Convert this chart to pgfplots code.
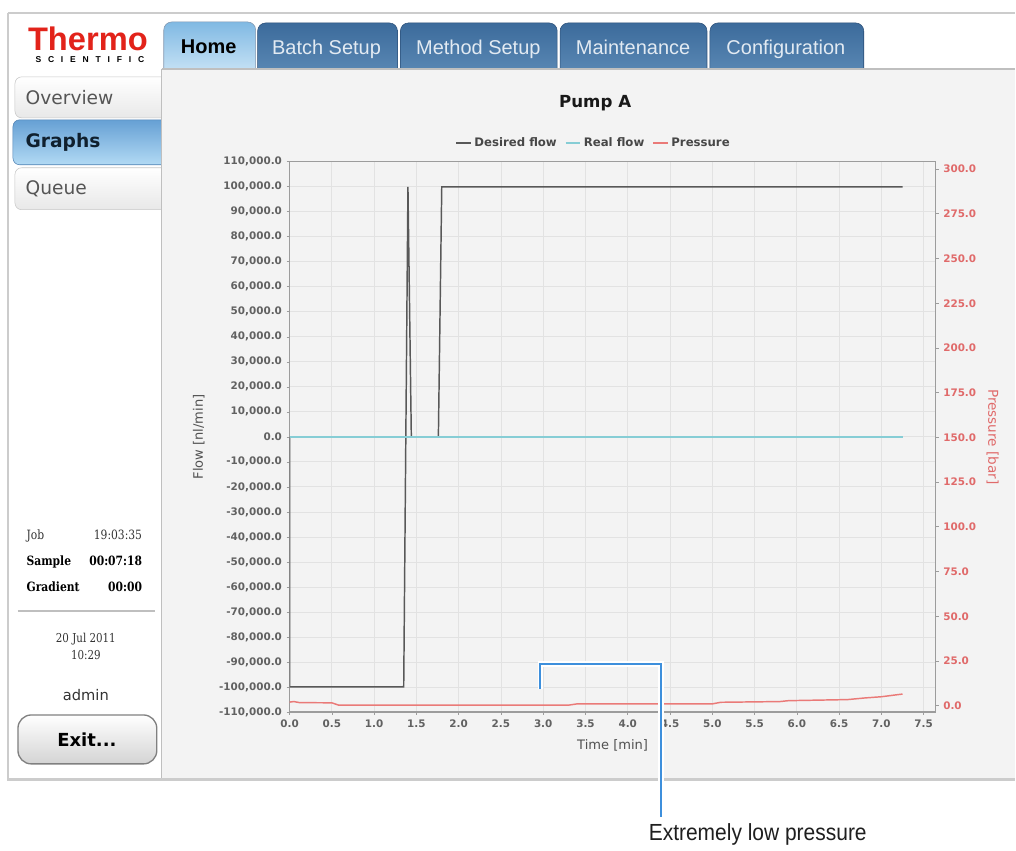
\documentclass[border=0pt]{standalone}
\usepackage{fontspec}
\setmainfont{DejaVu Sans}
\newfontfamily\arialf{Liberation Sans}
\newfontfamily\condf[FakeStretch=0.9]{Liberation Sans}
\newfontfamily\seriff[FakeStretch=0.84]{DejaVu Serif}
\usepackage{pgfplots}
\pgfplotsset{compat=1.18}

\definecolor{flowgray}{HTML}{585858}
\definecolor{realcyan}{HTML}{86CDD5}
\definecolor{presred}{HTML}{EA7A78}
\definecolor{presfont}{HTML}{E06A6A}
\definecolor{panel}{HTML}{F3F3F3}
\definecolor{gridc}{HTML}{E2E2E2}
\definecolor{axisc}{HTML}{9C9C9C}
\definecolor{tabtop}{HTML}{3C6B9B}
\definecolor{tabbot}{HTML}{5E8CB8}
\definecolor{tabedge}{HTML}{2B4F78}
\definecolor{hometop}{HTML}{80B9E3}
\definecolor{homebot}{HTML}{D2E9F8}
\definecolor{thermored}{HTML}{E2231A}
\definecolor{noteblue}{HTML}{3D8FDC}
\definecolor{txt}{HTML}{555555}
\definecolor{gtop}{HTML}{66A0D4}
\definecolor{gbot}{HTML}{B2DAF4}
\definecolor{gedge}{HTML}{5082B4}
\definecolor{tabtxt}{HTML}{E2EAF2}
\definecolor{grtxt}{HTML}{10202E}

\begin{document}
\begin{tikzpicture}
% ---- screen frame, px units
\begin{scope}[x=0.75pt,y=-0.75pt]
\fill[white] (0,0) rectangle (1016,848);
% tabs
\shade[top color=hometop,bottom color=homebot,draw=tabedge!60,rounded corners=6pt] (164,22) rectangle (256,80);
\foreach \a/\b in {258/398,401/558,561/708,711/865}
  \shade[top color=tabtop,bottom color=tabbot,draw=tabedge,rounded corners=6pt] (\a,23) rectangle (\b,80);
% sidebar buttons
\shade[top color=white,bottom color=black!9,draw=black!22,rounded corners=5pt] (15,77) rectangle (175,118);
\shade[top color=gtop,bottom color=gbot,draw=gedge,rounded corners=5pt] (13,120) rectangle (175,165);
\shade[top color=white,bottom color=black!9,draw=black!22,rounded corners=5pt] (15,168) rectangle (175,210);
% content panel
\fill[panel] (162,69) rectangle (1016,781);
\draw[black!25,line width=1pt] (162,69) -- (1016,69);
\draw[black!25,line width=1pt] (162,69) -- (162,781);
% outer frame
\draw[black!20,line width=2.2pt] (8,13) -- (1016,13);
\draw[black!20,line width=2.2pt] (8,13) -- (8,781) -- (1016,781);
% logo
\node[font=\arialf\bfseries\fontsize{24.5}{26}\selectfont,text=thermored,anchor=center] at (88,39) {Thermo};
\node[font=\arialf\bfseries\fontsize{6.4}{7}\selectfont\addfontfeature{LetterSpace=80},anchor=center] at (90,60) {SCIENTIFIC};
% tab labels
\node[font=\arialf\bfseries\fontsize{15}{17}\selectfont,text=black,anchor=base] at (209,54) {Home};
\foreach \c/\t in {327/Batch Setup,479/Method Setup,634/Maintenance,787/Configuration}
  \node[font=\arialf\fontsize{15}{17}\selectfont,text=tabtxt,anchor=base] at (\c,55) {\t};
% sidebar labels
\node[font=\fontsize{14}{16}\selectfont,text=txt,anchor=west] at (21,98) {Overview};
\node[font=\bfseries\fontsize{14}{16}\selectfont,text=grtxt,anchor=west] at (21,143) {Graphs};
\node[font=\fontsize{14}{16}\selectfont,text=txt,anchor=west] at (21,189) {Queue};
\node[font=\seriff\fontsize{9.6}{10}\selectfont,text=black!80,anchor=base west] at (22,540) {Job};
\node[font=\seriff\fontsize{9.6}{10}\selectfont,text=black!80,anchor=base east] at (147,540) {19:03:35};
\node[font=\seriff\bfseries\fontsize{9.6}{10}\selectfont,anchor=base west] at (22,566) {Sample};
\node[font=\seriff\bfseries\fontsize{9.6}{10}\selectfont,anchor=base east] at (147,566) {00:07:18};
\node[font=\seriff\bfseries\fontsize{9.6}{10}\selectfont,anchor=base west] at (22,592) {Gradient};
\node[font=\seriff\bfseries\fontsize{9.6}{10}\selectfont,anchor=base east] at (147,592) {00:00};
\draw[black!25,line width=1.5pt] (18,612) -- (155,612);
\node[font=\seriff\fontsize{9.2}{10}\selectfont,text=black!80] at (86,640) {20 Jul 2011};
\node[font=\seriff\fontsize{9.2}{10}\selectfont,text=black!80] at (86,656) {10:29};
\node[font=\fontsize{11}{13}\selectfont,text=black!80] at (86,696) {admin};
\shade[top color=white,bottom color=black!17,draw=black!50,line width=1pt,rounded corners=10pt] (18,716) rectangle (157,765);
\node[font=\bfseries\fontsize{13.5}{15}\selectfont] at (87,741) {Exit...};
% chart title
\node[font=\bfseries\fontsize{12.5}{14}\selectfont,text=black!90] at (596,103) {Pump A};
\end{scope}

% ---- flow axis (left)
\begin{axis}[
  at={(217.5pt,-534.75pt)}, anchor=south west,
  scale only axis, width=485.25pt, height=413.25pt,
  xmin=0, xmax=7.642, ymin=-110000, ymax=110000,
  xtick={0,0.5,...,7.5},
  ytick={-110000,-100000,...,110000},
  scaled y ticks=false, scaled x ticks=false,
  tick pos=left, tick align=outside,
  major tick length=2.2pt,
  tick style={axisc, line width=0.5pt},
  axis line style={axisc, line width=0.8pt},
  grid=major, major grid style={gridc, line width=0.6pt},
  /pgf/number format/assume math mode=true,
  xticklabel style={/pgf/number format/fixed, /pgf/number format/fixed zerofill, /pgf/number format/precision=1},
  yticklabel style={/pgf/number format/fixed, /pgf/number format/fixed zerofill, /pgf/number format/precision=1, /pgf/number format/1000 sep={,}},
  ticklabel style={font=\bfseries\fontsize{7.8}{9}\selectfont, text=black!62},
  xlabel={Time [min]}, ylabel={Flow [nl/min]},
  label style={font=\fontsize{9.8}{11}\selectfont, text=black!68},
  xlabel style={at={(axis description cs:0.5,-0.06)}, anchor=center},
  ylabel style={at={(axis description cs:-0.1406,0.5)}, anchor=center},
  legend columns=-1,
  legend style={at={(0.471,1.0345)}, anchor=center, draw=none, fill=none,
    font=\bfseries\fontsize{8.8}{10}\selectfont, text=black!72,
    /tikz/every even column/.append style={column sep=4pt}},
  legend image code/.code={\draw[#1, line width=1.3pt] (0pt,0pt) -- (11pt,0pt);},
]
\addplot[flowgray, line width=1.1pt] coordinates {
  (0,0) (0,-100000) (1.35,-100000) (1.40,100000) (1.44,0) (1.76,0) (1.80,100000) (7.25,100000)
};
\addlegendentry{Desired flow}
\addplot[realcyan, line width=1.5pt] coordinates {
  (0,0) (7.26,0)
};
\addlegendentry{Real flow}
\addlegendimage{presred, line width=1.3pt}
\addlegendentry{Pressure}
\end{axis}

% ---- pressure axis (right)
\begin{axis}[
  at={(217.5pt,-534.75pt)}, anchor=south west,
  scale only axis, width=485.25pt, height=413.25pt,
  xmin=0, xmax=7.642, ymin=-3.52, ymax=304.1,
  axis x line=none, axis y line*=right,
  ytick={0,25,...,300},
  tick align=outside, major tick length=2.2pt,
  tick style={axisc, line width=0.5pt},
  axis line style={axisc, line width=0.8pt, -},
  /pgf/number format/assume math mode=true,
  yticklabel style={/pgf/number format/fixed, /pgf/number format/fixed zerofill, /pgf/number format/precision=1},
  ticklabel style={font=\bfseries\fontsize{7.8}{9}\selectfont, text=presfont},
  ylabel={Pressure [bar]},
  ylabel style={font=\fontsize{10.2}{12}\selectfont, text=presfont, rotate=180,
    at={(axis description cs:1.088,0.5)}, anchor=center},
]
\addplot[presred, line width=1.1pt] coordinates {
  (0,2.0) (0.05,2.3) (0.12,1.7) (0.5,1.6) (0.58,0.3) (3.3,0.3) (3.4,1.0)
  (5.0,1.0) (5.1,1.9) (5.8,2.3) (5.9,2.8) (6.6,3.4) (6.8,4.3) (7.0,5.0) (7.25,6.5)
};
\end{axis}

% ---- call-out
\begin{scope}[x=0.75pt,y=-0.75pt]
\draw[white, line width=4pt] (541,690) -- (541,665) -- (662,665) -- (662,818);
\draw[noteblue, line width=1.6pt] (541,690) -- (541,665) -- (662,665) -- (662,818);
\node[font=\condf\fontsize{17.5}{20}\selectfont, text=black!88, anchor=west] at (645,836) {Extremely low pressure};
\end{scope}
\end{tikzpicture}
\end{document}
